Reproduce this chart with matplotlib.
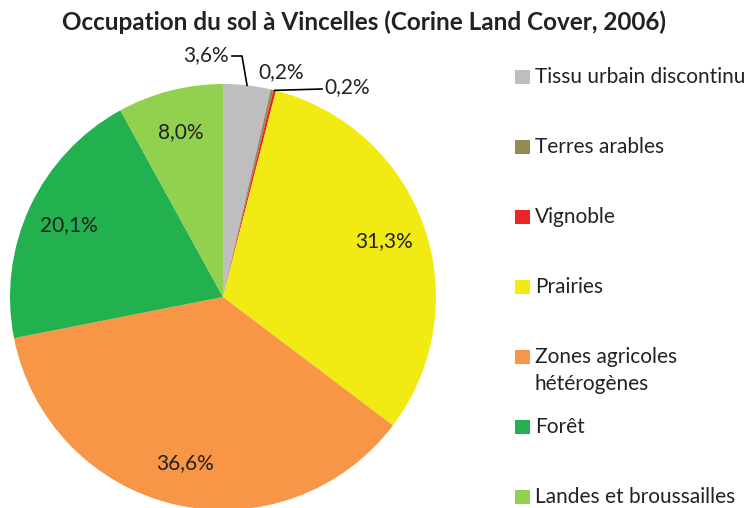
import matplotlib
matplotlib.use("Agg")
import matplotlib.pyplot as plt
import numpy as np
from matplotlib.patches import Rectangle

plt.rcParams['font.family'] = ['Lato', 'DejaVu Sans']

categories = ["Tissu urbain discontinu", "Terres arables", "Vignoble", "Prairies",
              "Zones agricoles\nhétérogènes", "Forêt", "Landes et broussailles"]
values = [3.6, 0.2, 0.2, 31.3, 36.6, 20.1, 8.0]
colors = ["#BEBEBE", "#948A54", "#EE2424", "#F2EA13", "#F79646", "#23B04F", "#92D050"]

W, H = 747, 508
fig = plt.figure(figsize=(W / 100, H / 100), dpi=100)

cx, cy, R = 223, 297, 213
ax = fig.add_axes([(cx - R) / W, (H - cy - R) / H, 2 * R / W, 2 * R / H])

wedges, _ = ax.pie(values, colors=colors, startangle=90, counterclock=False,
                   radius=1, wedgeprops=dict(linewidth=0))
ax.set_xlim(-1, 1)
ax.set_ylim(-1, 1)
ax.set_aspect('equal')
ax.axis('off')

FS = 15
TC = '#222222'

def fmt(v):
    return f"{v:.1f}".replace('.', ',') + "%"

total = sum(values)
cum = np.cumsum([0] + values[:-1])
mids = [(c + v / 2) / total * 2 * np.pi for c, v in zip(cum, values)]

for i in [3, 4, 5, 6]:
    a = mids[i]
    ax.text(0.8 * np.sin(a), 0.8 * np.cos(a), fmt(values[i]), ha='center', va='center',
            fontsize=FS, color=TC)

def px(x, y):
    return ((x - cx) / R, (cy - y) / R)

# 3,6% with leader
a = mids[0]
tx, ty = px(229, 55)
ax.text(tx, ty, fmt(values[0]), ha='right', va='center', fontsize=FS, color=TC)
ex, ey = px(242, 56)
sx, sy = px(232, 56)
ax.plot([sx, ex, np.sin(a)], [sy, ey, np.cos(a)], color='black', lw=1.2, clip_on=False)

# Terres arables 0,2%
tx, ty = px(258, 72)
ax.text(tx, ty, fmt(values[1]), ha='left', va='center', fontsize=FS, color=TC)

# Vignoble 0,2% with leader
a = mids[2]
tx, ty = px(324, 87)
ax.text(tx, ty, fmt(values[2]), ha='left', va='center', fontsize=FS, color=TC)
sx, sy = px(322, 89)
ax.plot([np.sin(a), sx], [np.cos(a), sy], color='black', lw=1.2, clip_on=False)

fig.text(364 / W, 1 - 22 / H, "Occupation du sol à Vincelles (Corine Land Cover, 2006)",
         ha='center', va='center', fontsize=17.5, fontweight='bold', color=TC)

y0, step = 77, 70
for i, (lab, col) in enumerate(zip(categories, colors)):
    y = y0 + i * step
    fig.patches.append(Rectangle((515 / W, 1 - (y + 7) / H), 15 / W, 14 / H,
                                 transform=fig.transFigure, facecolor=col, edgecolor='none'))
    for k, line in enumerate(lab.split('\n')):
        fig.text(535 / W, 1 - (y + 6 + 27 * k) / H, line, ha='left', va='baseline',
                 fontsize=FS, color=TC)

fig.savefig("out.png", dpi=100)
